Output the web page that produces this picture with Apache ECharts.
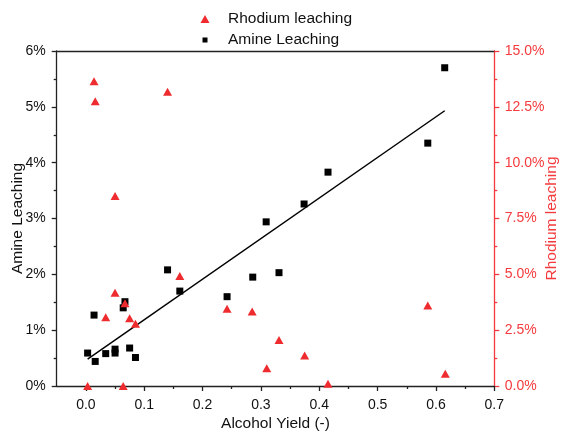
<!DOCTYPE html>
<html><head><meta charset="utf-8">
<script src="https://cdn.jsdelivr.net/npm/echarts@6/dist/echarts.min.js"></script>
<style>html,body{margin:0;padding:0;background:#fff}#c{width:562px;height:435px}</style>
</head><body><div id="c"></div>
<script>
const amineX = [0.003,0.016,0.014,0.034,0.050,0.050,0.067,0.064,0.075,0.085,0.140,0.161,0.242,0.286,0.309,0.331,0.374,0.415,0.586,0.615];
const amineY = [0.59,0.44,1.27,0.58,0.66,0.59,1.51,1.40,0.68,0.51,2.08,1.70,1.60,1.95,2.94,2.03,3.26,3.83,4.35,5.70];
const rhodiumX = [0.003,0.014,0.016,0.034,0.050,0.050,0.064,0.067,0.075,0.085,0.140,0.161,0.242,0.285,0.310,0.331,0.375,0.415,0.586,0.616];
const rhodiumY = [0.00,13.64,12.75,3.08,8.51,4.18,0.00,3.70,3.03,2.79,13.18,4.93,3.46,3.34,0.79,2.06,1.37,0.10,3.61,0.55];
const fitX = [0.003,0.615];
const fitY = [0.48,4.93];
const xTicks = [0,0.1,0.2,0.3,0.4,0.5,0.6,0.7];
const xMinorTicks = [0.05,0.15,0.25,0.35,0.45,0.55,0.65];

const RED = '#ee2b2e';
const AXRED = '#f43a3d';
const FONT = '"Liberation Sans", Arial, sans-serif';
const zip = (a, b) => a.map((v, i) => [v, b[i]]);

const chart = echarts.init(document.getElementById('c'));
chart.setOption({
  animation: false,
  textStyle: { fontFamily: FONT },
  grid: { left: 56.7, right: 67.7, top: 51, bottom: 49, outerBoundsMode: 'none' },
  legend: [
    { data: ['Rhodium leaching'], orient: 'vertical', left: 200.5, top: 11, padding: 0,
      itemWidth: 9, itemHeight: 8,
      textStyle: { fontSize: 15.5, color: '#111', lineHeight: 16, padding: [0,0,0,13.5], fontFamily: FONT } },
    { data: ['Amine Leaching'], orient: 'vertical', left: 202.5, top: 32, padding: 0,
      itemWidth: 5, itemHeight: 5,
      textStyle: { fontSize: 15.5, color: '#111', lineHeight: 16, padding: [0,0,0,15.5], fontFamily: FONT } }
  ],
  xAxis: [
    { type: 'value', position: 'bottom', min: -0.05, max: 0.7,
      name: 'Alcohol Yield (-)', nameLocation: 'middle', nameGap: 30, nameMoveOverlap: false,
      nameTextStyle: { fontSize: 15.5, color: '#111', fontFamily: FONT },
      axisLine: { onZero: false, lineStyle: { color: '#222', width: 1.3 } },
      axisTick: { show: true, length: 5, customValues: xTicks, lineStyle: { color: '#222', width: 1.3 } },
      axisLabel: { customValues: xTicks, margin: 12, fontSize: 14, color: '#111', fontFamily: FONT,
        formatter: v => v.toFixed(1) },
      splitLine: { show: false } },
    { type: 'value', position: 'bottom', min: -0.05, max: 0.7,
      axisLine: { show: false },
      axisTick: { show: true, length: 3, customValues: xMinorTicks, lineStyle: { color: '#222', width: 1.3 } },
      axisLabel: { show: false }, splitLine: { show: false } },
    { type: 'value', position: 'top', min: -0.05, max: 0.7,
      axisLine: { onZero: false, lineStyle: { color: '#222', width: 1.3 } },
      axisTick: { show: false }, axisLabel: { show: false }, splitLine: { show: false } }
  ],
  yAxis: [
    { type: 'value', position: 'left', min: 0, max: 6, interval: 1,
      name: 'Amine Leaching', nameLocation: 'middle', nameGap: 31, nameMoveOverlap: false,
      nameTextStyle: { fontSize: 15.5, color: '#111', fontFamily: FONT },
      axisLine: { show: true, onZero: false, lineStyle: { color: '#222', width: 1.3 } },
      axisTick: { show: true, length: 5, lineStyle: { color: '#222', width: 1.3 } },
      minorTick: { show: true, splitNumber: 2, length: 3, lineStyle: { color: '#222', width: 1.3 } },
      axisLabel: { margin: 11, fontSize: 14, color: '#111', fontFamily: FONT, formatter: v => v + '%' },
      splitLine: { show: false }, minorSplitLine: { show: false } },
    { type: 'value', position: 'right', min: 0, max: 15, interval: 2.5,
      name: 'Rhodium leaching', nameLocation: 'middle', nameGap: 49, nameMoveOverlap: false,
      nameTextStyle: { fontSize: 15.5, color: AXRED, fontFamily: FONT },
      axisLine: { show: true, onZero: false, lineStyle: { color: AXRED, width: 1.3 } },
      axisTick: { show: true, length: 5, lineStyle: { color: AXRED, width: 1.3 } },
      minorTick: { show: true, splitNumber: 2, length: 3, lineStyle: { color: AXRED, width: 1.3 } },
      axisLabel: { margin: 10.5, fontSize: 14, color: AXRED, fontFamily: FONT, formatter: v => v.toFixed(1) + '%' },
      splitLine: { show: false }, minorSplitLine: { show: false } }
  ],
  series: [
    { name: 'Amine Leaching', type: 'scatter', xAxisIndex: 0, yAxisIndex: 0,
      symbol: 'rect', symbolSize: 7, itemStyle: { color: '#000', opacity: 1 }, z: 2,
      data: zip(amineX, amineY) },
    { name: 'Fit', type: 'line', xAxisIndex: 0, yAxisIndex: 0, showSymbol: false, symbol: 'none',
      lineStyle: { color: '#000', width: 1.5 }, z: 3, silent: true,
      data: zip(fitX, fitY) },
    { name: 'Rhodium leaching', type: 'scatter', xAxisIndex: 0, yAxisIndex: 1,
      symbol: 'triangle', symbolSize: [9, 8], itemStyle: { color: RED, opacity: 1 }, z: 4,
      data: zip(rhodiumX, rhodiumY) }
  ]
});
</script>
</body></html>
